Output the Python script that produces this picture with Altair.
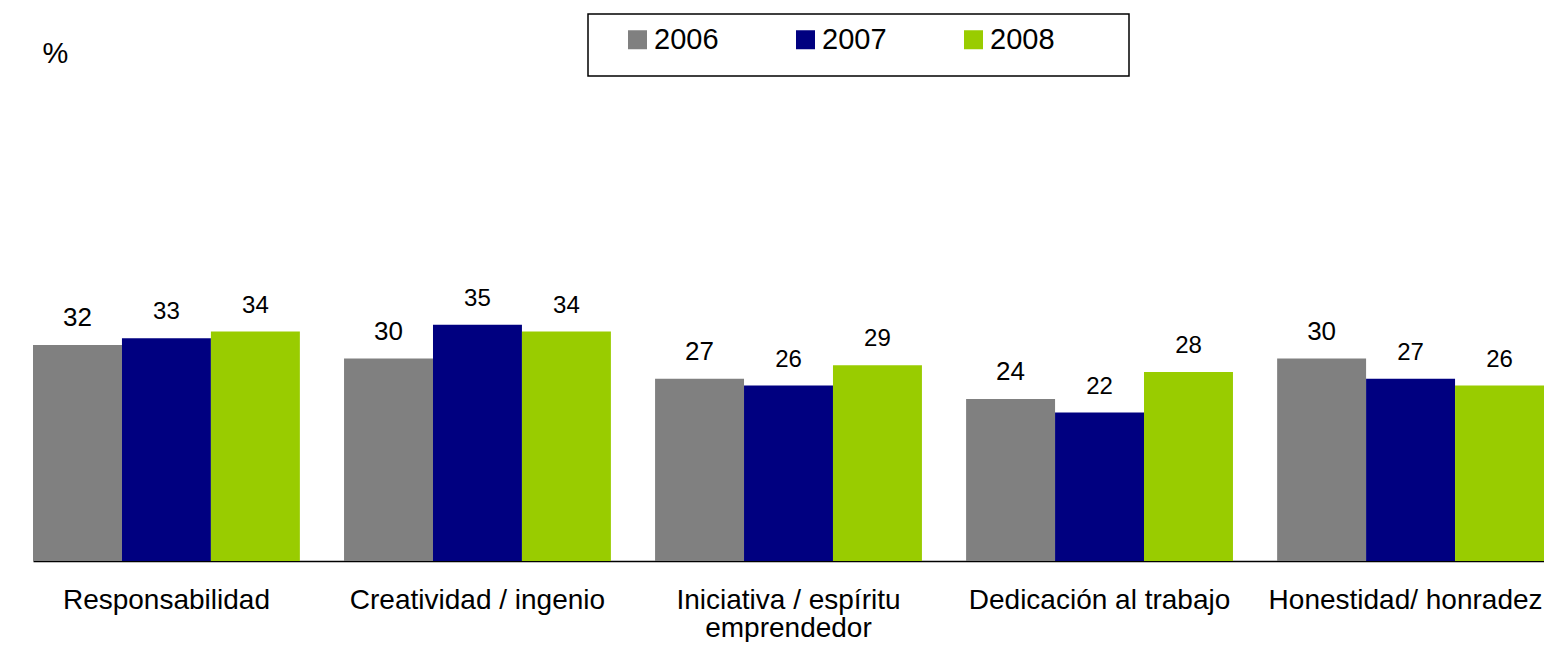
import altair as alt
import pandas as pd

categories = [
    "Responsabilidad",
    "Creatividad / ingenio",
    "Iniciativa / espíritu emprendedor",
    "Dedicación al trabajo",
    "Honestidad/ honradez",
]
years = ["2006", "2007", "2008"]
values_2006 = [32, 30, 27, 24, 30]
values_2007 = [33, 35, 26, 22, 27]
values_2008 = [34, 34, 29, 28, 26]
colors = ["#808080", "#000080", "#99CC00"]

rows = []
for yr, vals in zip(years, [values_2006, values_2007, values_2008]):
    for c, v in zip(categories, vals):
        rows.append({"categoria": c, "year": yr, "valor": v})
df = pd.DataFrame(rows)

FONT = "Liberation Sans"
BLANK = "\u2800"

x_enc = alt.X(
    "categoria:N",
    sort=categories,
    scale=alt.Scale(range=[23, 1534], paddingInner=0.142, paddingOuter=0),
    axis=alt.Axis(
        title=None,
        ticks=False,
        tickSize=0,
        labelAngle=0,
        labelFont=FONT,
        labelFontSize=28,
        labelColor="black",
        labelPadding=47,
        labelBaseline="alphabetic",
        labelLineHeight=28,
        labelLimit=500,
        labelOverlap=False,
        labelOffset={"condition": {"test": "datum.label == 'Honestidad/ honradez'", "value": -5}, "value": 0},
        labelExpr="datum.label == 'Iniciativa / espíritu emprendedor' ? ['Iniciativa / espíritu', 'emprendedor'] : datum.label",
        domainColor="black",
        domainWidth=1.5,
        grid=False,
    ),
)
xoff = alt.XOffset("year:N", sort=years, scale=alt.Scale(paddingInner=0, paddingOuter=0))
y_scale = alt.Scale(domain=[0, 80])

bars = alt.Chart(df).mark_bar().encode(
    x=x_enc,
    xOffset=xoff,
    y=alt.Y(
        "valor:Q",
        scale=y_scale,
        axis=alt.Axis(
            title="%",
            labels=False,
            ticks=False,
            domain=False,
            grid=False,
            titleAngle=0,
            titleX=32,
            titleY=41,
            titleAlign="left",
            titleBaseline="alphabetic",
            titleFont=FONT,
            titleFontSize=29,
            titleFontWeight="normal",
            titleColor="black",
        ),
    ),
    color=alt.Color(
        "year:N",
        sort=years,
        scale=alt.Scale(domain=years, range=colors),
        legend=alt.Legend(
            title=BLANK,
            titleOrient="left",
            titleFontSize=51,
            titlePadding=-13,
            orient="none",
            legendX=578,
            legendY=-7,
            direction="horizontal",
            columns=3,
            padding=11,
            strokeColor="black",
            symbolType="square",
            symbolSize=361,
            symbolStrokeWidth=0,
            symbolOpacity=1,
            labelFont=FONT,
            labelFontSize=29,
            labelColor="black",
            labelOffset=2,
            labelLimit=500,
            columnPadding=72,
            labelExpr="datum.label == '2008' ? '2008" + BLANK * 3 + "' : datum.label",
        ),
    ),
)

labels = alt.Chart(df).mark_text(
    baseline="alphabetic", dy=-19, font=FONT, color="black"
).transform_calculate(
    fs="datum.year == '2006' ? 26 : 24"
).encode(
    x=alt.X("categoria:N", sort=categories),
    xOffset=xoff,
    y=alt.Y("valor:Q", scale=y_scale),
    text=alt.Text("valor:Q"),
    size=alt.Size("fs:Q", scale=None, legend=None),
)

chart = (
    alt.layer(bars, labels)
    .properties(
        width=1534,
        height=540,
        autosize=alt.AutoSizeParams(type="none"),
        padding={"left": 2, "top": 13, "right": 0, "bottom": 81},
    )
    .configure_view(stroke=None)
    .configure_legend(strokeWidth=1.5)
)

chart.save("out.html", embed_options={"renderer": "svg", "actions": False})
